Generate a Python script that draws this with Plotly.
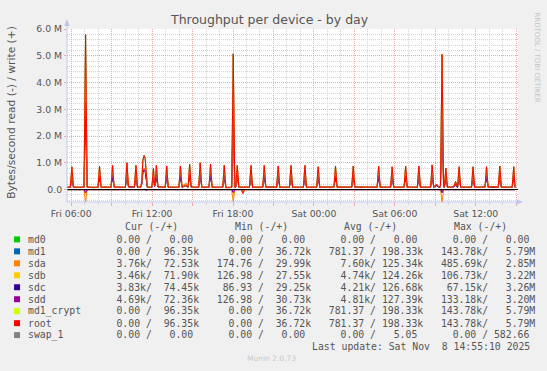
import pandas as pd
import plotly.graph_objects as go

# ------------------------------------------------------------------ data
T0 = pd.Timestamp("2025-11-07 00:00")  # Fri 7 Nov 2025 00:00

# write samples: minutes after T0
w_min = [
    340, 356, 363, 370, 395,
    417, 424, 431, 455,
    479, 486, 493, 515,
    537, 544, 551, 575,
    601, 608, 615, 625,
    641, 648, 655, 669,
    674, 679, 684, 689, 694, 699, 710,
    719, 726, 731, 734, 739, 746, 755,
    778, 785, 792, 815,
    839, 846, 853, 870, 877,
    880, 887, 894, 910,
    927, 934, 941, 955,
    973, 980, 987, 1010,
    1034, 1041, 1048, 1055,
    1074, 1081, 1088,
    1092, 1099, 1106, 1130,
    1153, 1160, 1167, 1190,
    1212, 1219, 1226, 1250,
    1274, 1281, 1288, 1310,
    1331, 1338, 1345, 1370,
    1393, 1400, 1407, 1430,
    1452, 1459, 1466, 1500,
    1529, 1536, 1543, 1575,
    1608, 1615, 1622, 1670,
    1721, 1728, 1735, 1760,
    1781, 1788, 1795, 1820,
    1841, 1848, 1855, 1880,
    1900, 1907, 1914, 1940,
    1959, 1966, 1973, 1985, 1995,
    2003, 2010, 2017,
    2020, 2027, 2034, 2055,
    2065, 2070, 2075,
    2079, 2086, 2093, 2120,
    2141, 2148, 2155, 2180,
    2201, 2208, 2215, 2235,
    2260, 2267, 2274, 2300,
    2322, 2329, 2335,
]

# write rates in kB/s (root, md1 and md1_crypt carry identical values)
root_w = [
    95, 90, 850, 92, 88,
    90, 5790, 95, 85,
    88, 870, 90, 92,
    86, 900, 95, 90,
    88, 1000, 110, 115,
    92, 900, 95, 95,
    300, 1100, 1270, 1180, 400, 95, 88,
    90, 800, 150, 200, 900, 120, 100,
    90, 880, 92, 88,
    90, 880, 95, 160, 120,
    100, 950, 95, 90,
    92, 1000, 95, 90,
    92, 950, 95, 88,
    90, 900, 85, 80,
    90, 5070, 100,
    95, 900, 92, 90,
    92, 900, 95, 90,
    92, 900, 100, 100,
    90, 880, 92, 90,
    92, 900, 95, 88,
    90, 900, 92, 90,
    92, 850, 95, 95,
    95, 880, 98, 95,
    95, 880, 98, 95,
    95, 870, 92, 90,
    90, 850, 92, 90,
    92, 880, 95, 90,
    90, 880, 92, 90,
    92, 920, 95, 200, 110,
    120, 5050, 110,
    95, 800, 95, 90,
    150, 300, 120,
    95, 850, 92, 90,
    92, 850, 95, 90,
    92, 850, 95, 110,
    92, 880, 95, 90,
    92, 850, 96.35,
]
md1_w = root_w
md1_crypt_w = root_w

sda_w = [
    84, 80, 520, 82, 78,
    80, 2850, 86, 75,
    78, 530, 80, 82,
    76, 560, 84, 80,
    78, 620, 98, 105,
    82, 560, 84, 84,
    250, 700, 800, 760, 300, 84, 78,
    80, 500, 130, 170, 560, 105, 90,
    80, 540, 82, 78,
    80, 540, 84, 250, 140,
    88, 590, 84, 80,
    82, 620, 84, 80,
    82, 590, 84, 78,
    80, 560, 75, 72,
    80, 2600, 88,
    84, 560, 82, 80,
    82, 560, 84, 80,
    82, 560, 88, 92,
    80, 540, 82, 80,
    82, 560, 84, 78,
    80, 560, 82, 80,
    82, 520, 80, 78,
    80, 540, 84, 80,
    80, 540, 84, 80,
    82, 530, 80, 80,
    80, 520, 82, 80,
    82, 540, 84, 80,
    80, 540, 82, 80,
    82, 570, 84, 180, 98,
    105, 2500, 98,
    84, 500, 84, 80,
    130, 270, 105,
    84, 520, 82, 80,
    82, 520, 84, 80,
    82, 520, 84, 100,
    82, 540, 84, 80,
    82, 520, 72.53,
]
sdb_w = [
    82, 78, 480, 80, 76,
    78, 3220, 84, 73,
    76, 470, 78, 80,
    74, 500, 82, 78,
    76, 560, 94, 100,
    80, 500, 82, 82,
    200, 620, 720, 680, 260, 82, 76,
    78, 450, 110, 140, 500, 98, 86,
    78, 490, 80, 76,
    78, 490, 82, 170, 115,
    84, 530, 82, 78,
    80, 560, 82, 78,
    80, 530, 82, 76,
    78, 500, 73, 70,
    78, 2950, 86,
    82, 500, 80, 78,
    80, 500, 82, 78,
    80, 500, 86, 85,
    78, 490, 80, 78,
    80, 500, 82, 76,
    78, 500, 80, 78,
    80, 470, 78, 76,
    78, 490, 82, 78,
    78, 490, 82, 78,
    80, 480, 78, 78,
    78, 470, 80, 78,
    80, 490, 82, 78,
    78, 490, 80, 78,
    80, 510, 82, 150, 92,
    98, 2900, 92,
    82, 450, 82, 78,
    110, 210, 95,
    82, 470, 80, 78,
    80, 470, 82, 78,
    80, 470, 82, 88,
    80, 490, 82, 78,
    80, 470, 71.90,
]
sdc_w = [
    83, 79, 500, 81, 77,
    79, 3260, 85, 74,
    77, 510, 79, 81,
    75, 520, 83, 79,
    77, 590, 96, 95,
    81, 530, 83, 83,
    190, 650, 740, 700, 250, 83, 77,
    79, 470, 115, 150, 530, 100, 88,
    79, 510, 81, 77,
    79, 510, 83, 140, 105,
    86, 560, 83, 79,
    81, 590, 83, 79,
    81, 560, 83, 77,
    79, 530, 74, 71,
    79, 2980, 87,
    83, 530, 81, 79,
    81, 530, 83, 79,
    81, 530, 87, 84,
    79, 510, 81, 79,
    81, 530, 83, 77,
    79, 530, 81, 79,
    81, 500, 79, 77,
    79, 510, 83, 79,
    79, 510, 83, 79,
    81, 510, 79, 79,
    79, 500, 81, 79,
    81, 510, 83, 79,
    79, 510, 81, 79,
    81, 540, 83, 140, 95,
    100, 2950, 95,
    83, 470, 83, 79,
    108, 200, 92,
    83, 500, 81, 79,
    81, 500, 83, 79,
    81, 500, 83, 86,
    81, 510, 83, 79,
    81, 500, 74.45,
]
sdd_w = [
    82, 78, 490, 80, 76,
    78, 3200, 84, 73,
    76, 500, 79, 80,
    74, 510, 82, 78,
    76, 570, 95, 98,
    80, 520, 82, 82,
    210, 640, 730, 690, 270, 82, 76,
    78, 460, 112, 145, 520, 99, 87,
    78, 500, 80, 76,
    78, 500, 82, 150, 110,
    85, 550, 82, 78,
    80, 570, 82, 78,
    80, 550, 82, 76,
    78, 520, 73, 70,
    78, 2900, 86,
    82, 520, 80, 78,
    80, 520, 82, 78,
    80, 520, 86, 86,
    78, 500, 80, 78,
    80, 520, 82, 76,
    78, 520, 80, 78,
    80, 490, 78, 76,
    78, 500, 82, 78,
    78, 500, 82, 78,
    80, 500, 78, 78,
    78, 490, 80, 78,
    80, 500, 82, 78,
    78, 500, 80, 78,
    80, 530, 82, 160, 94,
    99, 2850, 94,
    82, 460, 82, 78,
    112, 220, 96,
    82, 490, 80, 78,
    80, 490, 82, 78,
    80, 490, 82, 90,
    80, 500, 82, 78,
    80, 490, 72.36,
]

# read rates in kB/s (drawn negative)
sda_r_min = [340, 417, 424, 431, 1074, 1081, 1088, 1117, 1124, 1131, 2003, 2010, 2017, 2335]
sda_r = [4.0, 4.2, 485.69, 5.0, 4.1, 470, 5.0, 4.0, 150, 4.2, 4.0, 470, 5.0, 3.76]
sdb_r_min = [340, 417, 424, 431, 1074, 1081, 1088, 2003, 2010, 2017, 2335]
sdb_r = [3.5, 3.6, 106.73, 4.0, 3.4, 95, 3.8, 3.5, 100, 3.9, 3.46]
sdc_r_min = [340, 417, 424, 431, 1074, 1081, 1088, 2003, 2010, 2017, 2335]
sdc_r = [4.0, 3.9, 67.15, 4.2, 3.8, 60, 4.1, 3.9, 62, 4.0, 3.83]
sdd_r_min = [340, 417, 424, 431, 687, 694, 701, 1074, 1081, 1088, 1117, 1124, 1131,
             2003, 2010, 2017, 2335]
sdd_r = [4.8, 4.9, 133.18, 5.0, 4.8, 35, 4.9, 4.8, 120, 5.0, 4.8, 70, 4.9,
         4.8, 125, 5.0, 4.69]
root_r_min = [340, 1117, 1124, 1131, 2335]
root_r = [0, 0, 143.78, 0, 0]          # md1 / md1_crypt identical
md0_min = [340, 2335]
md0_r = [0, 0]
md0_w = [0, 0]
swap_min = [340, 1600, 1605, 1610, 2335]
swap_r = [0, 0, 0, 0, 0]
swap_w = [0, 0, 0.58, 0, 0]

for arr in (root_w, sda_w, sdb_w, sdc_w, sdd_w):
    assert len(arr) == len(w_min), (len(arr), len(w_min))

# legend table
labels = ["md0", "md1", "sda", "sdb", "sdc", "sdd", "md1_crypt", "root", "swap_1"]
colors = ["#00CC00", "#0066B3", "#FF8000", "#FFCC00", "#330099",
          "#990099", "#CCFF00", "#FF0000", "#808080"]
cur_r = ["0.00", "0.00", "3.76k", "3.46k", "3.83k", "4.69k", "0.00", "0.00", "0.00"]
cur_w = ["0.00", "96.35k", "72.53k", "71.90k", "74.45k", "72.36k", "96.35k", "96.35k", "0.00"]
min_r = ["0.00", "0.00", "174.76", "126.98", "86.93", "126.98", "0.00", "0.00", "0.00"]
min_w = ["0.00", "36.72k", "29.99k", "27.55k", "29.25k", "30.73k", "36.72k", "36.72k", "0.00"]
avg_r = ["0.00", "781.37", "7.60k", "4.74k", "4.21k", "4.81k", "781.37", "781.37", "0.00"]
avg_w = ["0.00", "198.33k", "125.34k", "124.26k", "126.68k", "127.39k", "198.33k", "198.33k", "5.05"]
max_r = ["0.00", "143.78k", "485.69k", "106.73k", "67.15k", "133.18k", "143.78k", "143.78k", "0.00"]
max_w = ["0.00", "5.79M", "2.85M", "3.22M", "3.26M", "3.20M", "5.79M", "5.79M", "582.66"]
headers = ["Cur (-/+)", "Min (-/+)", "Avg (-/+)", "Max (-/+)"]

x_tick_labels = ["Fri 06:00", "Fri 12:00", "Fri 18:00", "Sat 00:00", "Sat 06:00", "Sat 12:00"]
y_tick_vals = [0, 1e6, 2e6, 3e6, 4e6, 5e6, 6e6]
y_tick_text = ["0.0", "1.0 M", "2.0 M", "3.0 M", "4.0 M", "5.0 M", "6.0 M"]

# ------------------------------------------------------------------ geometry
W, H = 547, 371
L, R, T, B = 67, 518.5, 29, 202.5


def PX(x):
    return (x - L) / (R - L)


def PY(y):
    return (B - y) / (B - T)


def tm(mins):
    return [T0 + pd.Timedelta(minutes=m) for m in mins]


MAJ = "#F2A8A8"
MIN = "#D4D4D4"
AX = "#C0C6F2"
TXT = "#555555"
DASH = "1px,1px"

fig = go.Figure()

series = [
    ("md0", md0_min, md0_r, md0_min, md0_w),
    ("md1", root_r_min, root_r, w_min, md1_w),
    ("sda", sda_r_min, sda_r, w_min, sda_w),
    ("sdb", sdb_r_min, sdb_r, w_min, sdb_w),
    ("sdc", sdc_r_min, sdc_r, w_min, sdc_w),
    ("sdd", sdd_r_min, sdd_r, w_min, sdd_w),
    ("md1_crypt", root_r_min, root_r, w_min, md1_crypt_w),
    ("root", root_r_min, root_r, w_min, root_w),
    ("swap_1", swap_min, swap_r, swap_min, swap_w),
]
for (name, rt, rv, wt, wv), col in zip(series, colors):
    fig.add_trace(go.Scatter(x=tm(rt), y=[-v * 1000 for v in rv], mode="lines",
                             line=dict(color=col, width=1), hoverinfo="skip",
                             showlegend=False, name=name + " read"))
    fig.add_trace(go.Scatter(x=tm(wt), y=[v * 1000 for v in wv], mode="lines",
                             line=dict(color=col, width=1), hoverinfo="skip",
                             showlegend=False, name=name + " write"))

x_ticks = [T0 + pd.Timedelta(minutes=360 + 180 * k) for k in range(12)]
x_text = []
for k in range(12):
    x_text.append(x_tick_labels[k // 2] if k % 2 == 0 else "")

shapes = []
# zero line
shapes.append(dict(type="line", xref="paper", yref="y", x0=0, x1=1, y0=0, y1=0,
                   line=dict(color="#000000", width=1), layer="above"))
# axis lines with arrows
shapes.append(dict(type="line", xref="paper", yref="paper", x0=0, x1=0,
                   y0=PY(B), y1=PY(24), line=dict(color=AX, width=1)))
shapes.append(dict(type="path", xref="paper", yref="paper",
                   path=f"M {PX(67)},{PY(19)} L {PX(64.2)},{PY(26)} L {PX(69.8)},{PY(26)} Z",
                   fillcolor=AX, line=dict(width=0)))
shapes.append(dict(type="line", xref="paper", yref="paper", x0=PX(L), x1=PX(519),
                   y0=0, y1=0, line=dict(color=AX, width=1)))
shapes.append(dict(type="path", xref="paper", yref="paper",
                   path=f"M {PX(523.5)},{PY(B)} L {PX(517)},{PY(B - 2.8)} L {PX(517)},{PY(B + 2.8)} Z",
                   fillcolor=AX, line=dict(width=0)))

annotations = []
annotations.append(dict(x=PX(270), y=PY(19), xref="paper", yref="paper",
                        text="Throughput per device - by day", showarrow=False,
                        xanchor="center", yanchor="middle",
                        font=dict(family="DejaVu Sans", size=12.5, color=TXT)))
annotations.append(dict(x=PX(12), y=PY(113), xref="paper", yref="paper",
                        text="Bytes/second read (-) / write (+)", showarrow=False,
                        textangle=-90, xanchor="center", yanchor="middle",
                        font=dict(family="DejaVu Sans", size=10.7, color=TXT)))
annotations.append(dict(x=PX(538), y=PY(58), xref="paper", yref="paper",
                        text="RRDTOOL / TOBI OETIKER", showarrow=False,
                        textangle=90, xanchor="center", yanchor="middle",
                        font=dict(family="DejaVu Sans", size=7, color="#C4C4C4")))
annotations.append(dict(x=PX(272), y=PY(359.5), xref="paper", yref="paper",
                        text="Munin 2.0.73", showarrow=False,
                        xanchor="center", yanchor="middle",
                        font=dict(family="DejaVu Sans", size=7.5, color="#C8C8C8")))

NB = "\u00a0"
MONO = dict(family="DejaVu Sans Mono", size=9.8, color=TXT)


def fmt(s, w):
    if s[-1].isalpha():
        num, u = s[:-1], s[-1]
    else:
        num, u = s, " "
    return num.rjust(w) + u


for hx, h in zip([123, 233, 342, 452], headers):
    annotations.append(dict(x=PX(hx), y=PY(226.7), xref="paper", yref="paper",
                            text=h.replace(" ", NB), showarrow=False,
                            xanchor="left", yanchor="middle", font=MONO))

for i, lab in enumerate(labels):
    yc = 240 + 12 * i
    cols = [fmt(a, 6) + "/" + fmt(b, 7) for a, b in
            [(cur_r[i], cur_w[i]), (min_r[i], min_w[i]),
             (avg_r[i], avg_w[i]), (max_r[i], max_w[i])]]
    row = lab.ljust(13) + "   ".join(cols)
    annotations.append(dict(x=PX(26), y=PY(yc), xref="paper", yref="paper",
                            text=row.replace(" ", NB), showarrow=False,
                            xanchor="left", yanchor="middle", font=MONO))
    shapes.append(dict(type="rect", xref="paper", yref="paper",
                       x0=PX(14), x1=PX(20), y0=PY(yc + 3), y1=PY(yc - 3),
                       fillcolor=colors[i], line=dict(width=0)))

annotations.append(dict(x=PX(533), y=PY(347), xref="paper", yref="paper",
                        text="Last update: Sat Nov  8 14:55:10 2025".replace(" ", NB),
                        showarrow=False, xanchor="right", yanchor="middle", font=MONO))

fig.update_layout(
    width=W, height=H, autosize=False,
    margin=dict(l=L, r=W - R, t=T, b=H - B, pad=0),
    paper_bgcolor="#F0F0F0", plot_bgcolor="#FFFFFF",
    showlegend=False,
    xaxis=dict(
        type="date",
        range=[T0 + pd.Timedelta(minutes=341.3), T0 + pd.Timedelta(minutes=2348)],
        tickvals=x_ticks, ticktext=x_text,
        showgrid=True, gridcolor=MAJ, griddash=DASH, gridwidth=1,
        ticks="outside", ticklen=3, tickcolor=MAJ, tickwidth=1,
        minor=dict(dtick=3600000, tick0="2025-11-07 00:00", showgrid=True,
                   gridcolor=MIN, griddash=DASH, gridwidth=1,
                   ticks="outside", ticklen=2, tickcolor=MIN),
        showline=False, zeroline=False,
        tickfont=dict(family="DejaVu Sans", size=9.3, color=TXT),
        fixedrange=True,
    ),
    yaxis=dict(
        range=[-466000, 6000000],
        tickvals=y_tick_vals, ticktext=y_tick_text,
        showgrid=True, gridcolor=MAJ, griddash=DASH, gridwidth=1,
        ticks="outside", ticklen=2, tickcolor=MAJ,
        minor=dict(dtick=200000, tick0=0, showgrid=True, gridcolor=MIN,
                   griddash=DASH, gridwidth=1),
        showline=False, zeroline=False,
        tickfont=dict(family="DejaVu Sans", size=9.3, color=TXT),
        fixedrange=True,
    ),
    shapes=shapes,
    annotations=annotations,
)

fig.write_html("out.html", config={"displayModeBar": False})
